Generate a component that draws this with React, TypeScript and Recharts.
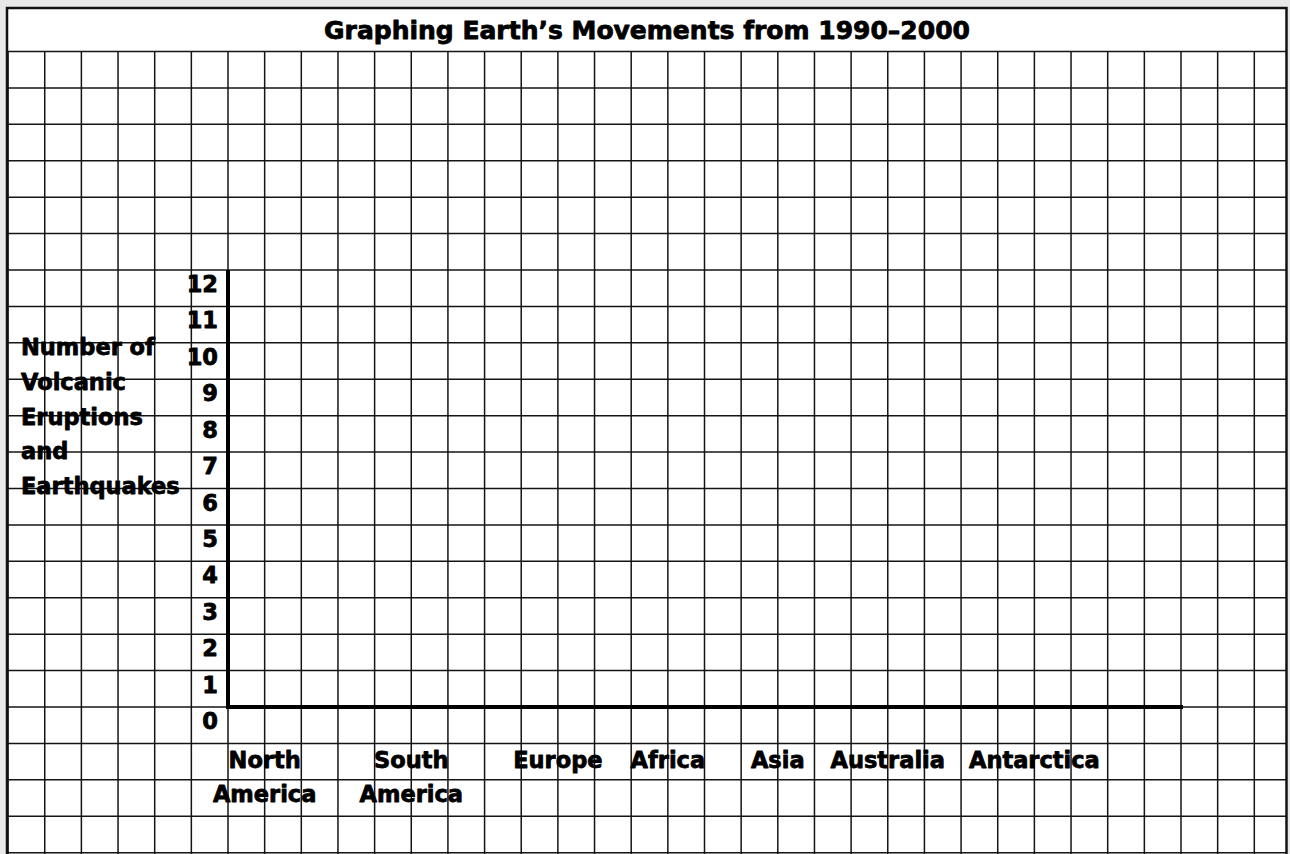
import React from 'react';
import { ComposedChart, XAxis, YAxis, CartesianGrid, Bar } from 'recharts';

// ---- data (blank worksheet: no values recorded yet) ----
const chartTitle = 'Graphing Earth\u2019s Movements from 1990\u20132000';
const yAxisTitleLines = ['Number of', 'Volcanic', 'Eruptions', 'and', 'Earthquakes'];
const continents = ['North America', 'South America', 'Europe', 'Africa', 'Asia', 'Australia', 'Antarctica'];
const continentColumns = [1, 5, 9, 12, 15, 18, 22];
const eventCounts: (number | null)[] = [null, null, null, null, null, null, null];
const yTickValues = [0, 1, 2, 3, 4, 5, 6, 7, 8, 9, 10, 11, 12];
const gridColumnValues = [-6, -5, -4, -3, -2, -1, 0, 1, 2, 3, 4, 5, 6, 7, 8, 9, 10, 11, 12, 13, 14, 15, 16, 17, 18, 19, 20, 21, 22, 23, 24, 25, 26, 27, 28];
const gridRowValues = [-4, -3, -2, -1, 0, 1, 2, 3, 4, 5, 6, 7, 8, 9, 10, 11, 12, 13, 14, 15, 16, 17, 18];

const data = continents.map((name, i) => ({ name, column: continentColumns[i], count: eventCounts[i] }));

// ---- layout ----
const W = 1290;
const H = 854;
const PLOT_LEFT = 228;
const PLOT_RIGHT = 1181;
const PLOT_TOP = 270;
const PLOT_BOTTOM = 707;
const FONT = '"DejaVu Sans", "Liberation Sans", Arial, sans-serif';
const INK = '#000';
const heavy = { stroke: INK, strokeWidth: 0.8, strokeLinejoin: 'round' as const };

const ContinentTick = (props: any) => {
  const { x, y, payload } = props;
  const idx = continentColumns.indexOf(payload.value);
  const label = idx >= 0 ? continents[idx] : '';
  const words = label.split(' ');
  return (
    <g>
      {words.map((w, i) => (
        <text
          key={i}
          x={x}
          y={y + 61 + i * 34}
          textAnchor="middle"
          fontFamily={FONT}
          fontWeight="bold"
          fontSize={22.5}
          fill={INK}
          {...heavy}
        >
          {w}
        </text>
      ))}
    </g>
  );
};

const CountTick = (props: any) => {
  const { x, y, payload } = props;
  return (
    <text
      x={x - 10}
      y={y + 22}
      textAnchor="end"
      fontFamily={FONT}
      fontWeight="bold"
      fontSize={22.5}
      fill={INK}
      {...heavy}
    >
      {payload.value}
    </text>
  );
};

export default function App() {
  return (
    <div
      style={{
        position: 'absolute',
        left: 0,
        top: 0,
        width: W,
        height: H,
        background: '#e8e8e8',
        overflow: 'hidden',
      }}
    >
      <div
        style={{
          position: 'absolute',
          left: 6,
          top: 7,
          width: 1282,
          height: 900,
          background: '#fff',
        }}
      />
      <div style={{ position: 'absolute', left: 0, top: 0 }}>
        <ComposedChart
          width={W}
          height={H}
          data={data}
          margin={{ top: PLOT_TOP, right: W - PLOT_RIGHT, bottom: 0, left: 0 }}
        >
          <CartesianGrid
            x={7}
            y={52}
            width={1280}
            height={802}
            verticalValues={gridColumnValues}
            horizontalValues={gridRowValues}
            stroke="#141414"
            strokeWidth={1.5}
            fill="none"
          />
          <XAxis
            dataKey="column"
            type="number"
            domain={[0, 26]}
            allowDataOverflow
            ticks={continentColumns}
            interval={0}
            tickSize={0}
            tickMargin={0}
            height={H - PLOT_BOTTOM}
            tickLine={false}
            axisLine={{ stroke: INK, strokeWidth: 4, strokeLinecap: 'square' }}
            tick={<ContinentTick />}
          />
          <YAxis
            type="number"
            domain={[0, 12]}
            allowDataOverflow
            ticks={yTickValues}
            interval={0}
            tickSize={0}
            tickMargin={0}
            width={PLOT_LEFT}
            tickLine={false}
            axisLine={{ stroke: INK, strokeWidth: 4 }}
            tick={<CountTick />}
          />
          <Bar dataKey="count" fill="#000" barSize={30} isAnimationActive={false} />
          <rect x={7} y={8} width={1279.5} height={900} fill="none" stroke="#111" strokeWidth={2.5} />
          <text
            x={647}
            y={38.5}
            textAnchor="middle"
            fontFamily={FONT}
            fontWeight="bold"
            fontSize={25}
            fill={INK}
            {...heavy}
          >
            {chartTitle}
          </text>
          {yAxisTitleLines.map((line, i) => (
            <text
              key={line}
              x={21}
              y={355 + i * 34.8}
              fontFamily={FONT}
              fontWeight="bold"
              fontSize={22.5}
              fill={INK}
              {...heavy}
            >
              {line}
            </text>
          ))}
        </ComposedChart>
      </div>
    </div>
  );
}
